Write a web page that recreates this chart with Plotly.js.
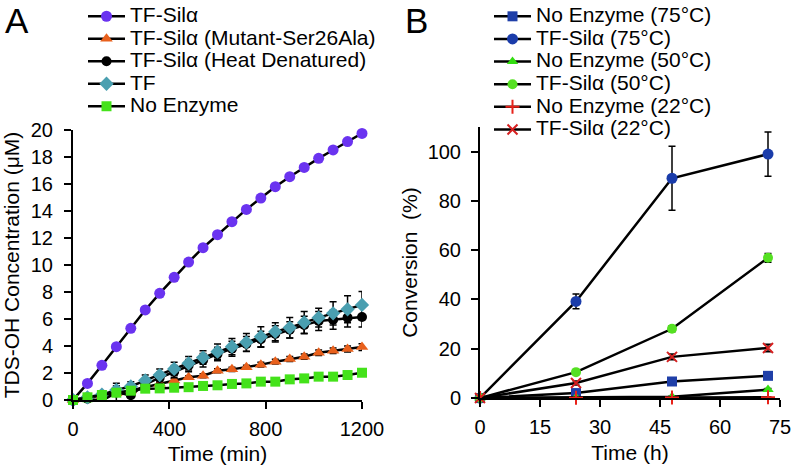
<!DOCTYPE html>
<html>
<head>
<meta charset="utf-8">
<script src="https://cdn.plot.ly/plotly-3.0.1.min.js"></script>
<style>
  html, body { margin: 0; padding: 0; background: #fff; }
  #chart { width: 793px; height: 465px; }
</style>
</head>
<body>
<div id="chart"></div>
<script>
  // Panel A: time course (min)
  const timeMin = [0, 60, 120, 180, 240, 300, 360, 420, 480, 540, 600, 660, 720, 780, 840, 900, 960, 1020, 1080, 1140, 1200];
  const silA = [0, 1.23, 2.57, 3.95, 5.31, 6.67, 7.9, 9.09, 10.22, 11.28, 12.25, 13.21, 14.12, 14.96, 15.8, 16.54, 17.23, 17.9, 18.52, 19.14, 19.75];
  const mutant = [0, 0.15, 0.3, 0.5, 0.7, 0.95, 1.2, 1.45, 1.68, 1.8, 2.17, 2.27, 2.42, 2.62, 2.84, 3.04, 3.21, 3.5, 3.65, 3.78, 3.92];
  const mutantErr = [0, 0.05, 0.05, 0.08, 0.1, 0.1, 0.1, 0.12, 0.12, 0.15, 0.15, 0.15, 0.15, 0.18, 0.18, 0.18, 0.2, 0.2, 0.2, 0.22, 0.25];
  const heat = [0, 0.1, -0.05, 0.55, 0.35, 1.15, 1.65, 2.1, 2.55, 2.95, 3.4, 3.8, 4.15, 4.5, 4.9, 5.2, 5.55, 5.85, 5.95, 6.1, 6.15];
  const heatErr = [0, 0.1, 0.1, 0.7, 0.6, 0.4, 0.4, 0.45, 0.45, 0.5, 0.5, 0.55, 0.55, 0.6, 0.6, 0.6, 0.65, 0.7, 0.7, 0.7, 0.75];
  const tf = [0, 0.2, 0.4, 0.75, 1.0, 1.45, 1.85, 2.3, 2.72, 3.14, 3.58, 3.95, 4.27, 4.69, 5.06, 5.36, 5.75, 6.1, 6.42, 6.72, 7.04];
  const tfErr = [0, 0.1, 0.15, 0.3, 0.35, 0.4, 0.45, 0.5, 0.5, 0.5, 0.57, 0.6, 0.65, 0.74, 0.67, 0.76, 0.8, 0.7, 0.86, 1.0, 1.0];
  const noEnz = [0, 0.2, 0.37, 0.54, 0.69, 0.84, 0.86, 0.91, 0.95, 1.04, 1.09, 1.19, 1.23, 1.36, 1.36, 1.53, 1.6, 1.73, 1.73, 1.85, 2.02];
  const noEnzErr = [0, 0.03, 0.04, 0.05, 0.05, 0.06, 0.06, 0.06, 0.07, 0.07, 0.08, 0.08, 0.08, 0.09, 0.09, 0.1, 0.1, 0.1, 0.1, 0.1, 0.1];

  // Panel B: conversion (h)
  const timeH = [0, 24, 48, 72];
  const noEnz75 = [0, 2, 6.7, 9];
  const noEnz75Err = [0, 0.5, 0.8, 0.8];
  const sil75 = [0, 39.2, 89.2, 99];
  const sil75Err = [0, 3, 13, 9];
  const noEnz50 = [0, 0.2, 0.5, 3.4];
  const noEnz50Err = [0, 0.2, 0.3, 0.5];
  const sil50 = [0, 10.5, 28.1, 56.9];
  const sil50Err = [0, 0.8, 1.2, 1.8];
  const noEnz22 = [0, 0.1, 0.2, 0.3];
  const noEnz22Err = [0, 0.1, 0.1, 0.1];
  const sil22 = [0, 6.1, 16.7, 20.3];
  const sil22Err = [0, 0.8, 1.2, 1.5];

  const font = "Arial, 'Liberation Sans', sans-serif";
  const W = 793, H = 465;

  function label(text) {
    return `<span style="font-size:21px">${text}</span>`;
  }

  function series(name, x, y, err, symbol, color, size, axes, legend) {
    return {
      type: "scatter",
      mode: "lines+markers",
      name: label(name),
      x: x,
      y: y,
      xaxis: axes[0],
      yaxis: axes[1],
      legend: legend,
      cliponaxis: false,
      line: { color: "#000", width: 2.5 },
      marker: { symbol: symbol, color: color, size: size, line: { width: 0 } },
      error_y: err ? { type: "data", array: err, visible: true, color: "#000", thickness: 1.5, width: 3.5 } : { visible: false }
    };
  }

  const A = ["x", "y"];
  const B = ["x2", "y2"];

  const traces = [
    series("TF-Silα", timeMin, silA, null, "circle", "#6a33f0", 11, A, "legend"),
    series("TF-Silα (Mutant-Ser26Ala)", timeMin, mutant, mutantErr, "triangle-up", "#e8601c", 11, A, "legend"),
    series("TF-Silα (Heat Denatured)", timeMin, heat, heatErr, "circle", "#000000", 10, A, "legend"),
    series("TF", timeMin, tf, tfErr, "diamond", "#4a9fb0", 11, A, "legend"),
    series("No Enzyme", timeMin, noEnz, noEnzErr, "square", "#44e21a", 10, A, "legend"),
    series("No Enzyme (75°C)", timeH, noEnz75, noEnz75Err, "square", "#1f3fa8", 10, B, "legend2"),
    series("TF-Silα (75°C)", timeH, sil75, sil75Err, "circle", "#1a3caa", 11, B, "legend2"),
    series("No Enzyme (50°C)", timeH, noEnz50, noEnz50Err, "triangle-up", "#33dd11", 10, B, "legend2"),
    series("TF-Silα (50°C)", timeH, sil50, sil50Err, "circle", "#55e022", 10, B, "legend2"),
    series("No Enzyme (22°C)", timeH, noEnz22, noEnz22Err, "cross-thin-open", "#e8221a", 10, B, "legend2"),
    series("TF-Silα (22°C)", timeH, sil22, sil22Err, "x-thin-open", "#d62020", 10, B, "legend2")
  ];
  traces[9].marker.line = { width: 2, color: "#e8221a" };
  traces[10].marker.line = { width: 2, color: "#d62020" };

  const axisBase = {
    showline: true,
    linecolor: "#000",
    linewidth: 2,
    ticks: "outside",
    ticklen: 7,
    tickwidth: 2,
    tickcolor: "#000",
    showgrid: false,
    zeroline: false,
    tickfont: { family: font, size: 20, color: "#000" }
  };

  const legendBase = {
    bgcolor: "rgba(0,0,0,0)",
    borderwidth: 0,
    yanchor: "top",
    xanchor: "left",
    y: 1,
    itemwidth: 37,
    tracegroupgap: 0
  };

  const layout = {
    width: W,
    height: H,
    margin: { l: 0, r: 0, t: 0, b: 0 },
    paper_bgcolor: "#fff",
    plot_bgcolor: "rgba(0,0,0,0)",
    font: { family: font, color: "#000" },
    showlegend: true,
    xaxis: Object.assign({}, axisBase, {
      domain: [73 / W, 362 / W],
      range: [0, 1200],
      dtick: 400,
      anchor: "y",
      ticklabelstandoff: 3,
      title: { text: "Time (min)", font: { family: font, size: 21 }, standoff: 8 }
    }),
    yaxis: Object.assign({}, axisBase, {
      domain: [1 - 400 / H, 1 - 130 / H],
      range: [0, 20],
      dtick: 2,
      anchor: "x",
      ticklabelstandoff: 7,
      title: { text: "TDS-OH Concentration (μM)", font: { family: font, size: 21 }, standoff: 5 }
    }),
    xaxis2: Object.assign({}, axisBase, {
      domain: [480 / W, 780 / W],
      range: [0, 75],
      dtick: 15,
      anchor: "y2",
      ticklabelstandoff: 3,
      title: { text: "Time (h)", font: { family: font, size: 21 }, standoff: 8 }
    }),
    yaxis2: Object.assign({}, axisBase, {
      domain: [1 - 398 / H, 1 - 127 / H],
      range: [0, 110],
      tickvals: [0, 20, 40, 60, 80, 100],
      anchor: "x2",
      ticklabelstandoff: 6,
      title: { text: "Conversion  (%)", font: { family: font, size: 21 }, standoff: 4 }
    }),
    legend: Object.assign({}, legendBase, { x: 83 / W, font: { family: font, size: 15, color: "#000" } }),
    legend2: Object.assign({}, legendBase, { x: 489 / W, font: { family: font, size: 15.1, color: "#000" } }),
    annotations: [
      { text: "A", x: 3 / W, y: 1 + 1 / H, xref: "paper", yref: "paper", xanchor: "left", yanchor: "top", showarrow: false, font: { family: font, size: 35, color: "#000" } },
      { text: "B", x: 403 / W, y: 1 + 1 / H, xref: "paper", yref: "paper", xanchor: "left", yanchor: "top", showarrow: false, font: { family: font, size: 35, color: "#000" } }
    ]
  };

  Plotly.newPlot("chart", traces, layout, { displayModeBar: false, staticPlot: true });
</script>
</body>
</html>
